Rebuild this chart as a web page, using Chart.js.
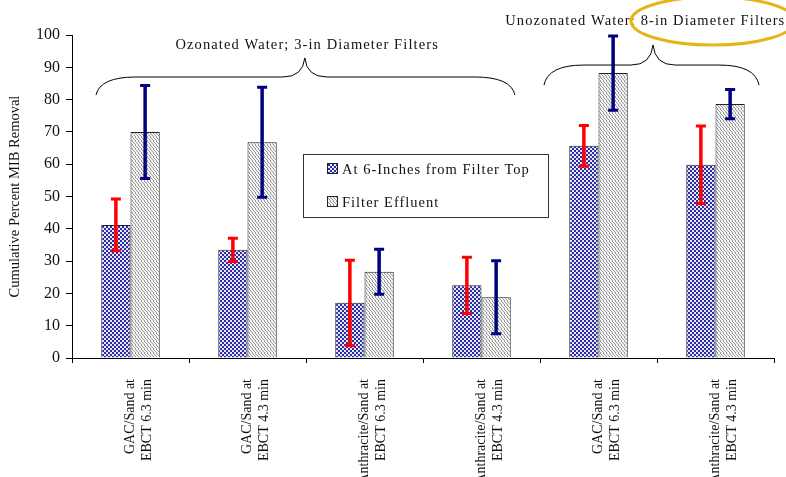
<!DOCTYPE html>
<html lang="en">
<head>
    <meta charset="UTF-8">
    <title>Cumulative MIB Removal</title>
    <script src="https://cdn.jsdelivr.net/npm/chart.js"></script>
    <style>
        body { margin: 0; background: #fff; }
        #wrap { width: 786px; height: 477px; }
    </style>
</head>
<body>
    <div id="wrap"><canvas id="mibChart" width="786" height="477"></canvas></div>
    <script>
        // filter configurations (two-line axis labels)
        const categories = [
            ['GAC/Sand at', 'EBCT 6.3 min'],
            ['GAC/Sand at', 'EBCT 4.3 min'],
            ['Anthracite/Sand at', 'EBCT 6.3 min'],
            ['Anthracite/Sand at', 'EBCT 4.3 min'],
            ['GAC/Sand at', 'EBCT 6.3 min'],
            ['Anthracite/Sand at', 'EBCT 4.3 min']
        ];
        const seriesNames = ['At 6-Inches from Filter Top', 'Filter Effluent'];

        // percent MIB removal and +/- error
        const sixInch = [41.2, 33.5, 17.1, 22.5, 65.7, 59.8];
        const sixInchErr = [8.0, 3.6, 13.2, 8.7, 6.3, 12.0];
        const effluent = [70.0, 66.8, 26.7, 18.8, 88.2, 78.6];
        const effluentErr = [14.4, 17.0, 7.0, 11.3, 11.5, 4.5];

        const yTicks = [0, 10, 20, 30, 40, 50, 60, 70, 80, 90, 100];

        const SERIF = '"Liberation Serif", "Times New Roman", serif';

        // hatched fills like the old spreadsheet patterns
        function makePattern(draw, w, h) {
            const c = document.createElement('canvas');
            c.width = w; c.height = h;
            draw(c.getContext('2d'));
            return c.getContext('2d').createPattern(c, 'repeat');
        }
        const bluePattern = makePattern(g => {
            g.fillStyle = '#e6e6f4';
            g.fillRect(0, 0, 4, 4);
            g.fillStyle = '#2e2eA4';
            g.fillRect(0, 0, 2, 2);
            g.fillRect(2, 2, 2, 2);
        }, 4, 4);
        const greyPattern = makePattern(g => {
            g.fillStyle = '#f4f4f4';
            g.fillRect(0, 0, 3, 4);
            g.fillStyle = '#9a9a9a';
            g.fillRect(0, 0, 1, 1);
            g.fillRect(0, 1, 1, 1);
            g.fillRect(1, 2, 1, 1);
            g.fillRect(2, 3, 1, 1);
        }, 3, 4);

        // brace annotations over the groups of filters (x in category units, y in % units)
        const braces = [
            { text: 'Ozonated Water; 3-in Diameter Filters', x0: -0.295, x1: 3.286, xm: 1.49, yEnd: 81.4, yLine: 87, yTip: 92.9, textX: 1.51, textY: 96.9 },
            { text: 'Unozonated Water; 8-in Diameter Filters', x0: 3.534, x1: 5.372, xm: 4.466, yEnd: 84.5, yLine: 90.7, yTip: 96.9, textX: 4.40, textY: 104.3 }
        ];

        const errorBars = {
            id: 'errorBars',
            afterDatasetsDraw(chart) {
                const { ctx } = chart;
                const y = chart.scales.y;
                chart.data.datasets.forEach((ds, di) => {
                    const meta = chart.getDatasetMeta(di);
                    meta.data.forEach((bar, i) => {
                        const top = y.getPixelForValue(ds.data[i] + ds.errors[i]);
                        const bot = y.getPixelForValue(ds.data[i] - ds.errors[i]);
                        ctx.save();
                        ctx.strokeStyle = ds.errorColor;
                        ctx.lineWidth = 3.5;
                        ctx.beginPath();
                        ctx.moveTo(bar.x, top);
                        ctx.lineTo(bar.x, bot);
                        ctx.stroke();
                        ctx.lineWidth = 3;
                        ctx.beginPath();
                        ctx.moveTo(bar.x - 5, top);
                        ctx.lineTo(bar.x + 5, top);
                        ctx.moveTo(bar.x - 5, bot);
                        ctx.lineTo(bar.x + 5, bot);
                        ctx.stroke();
                        ctx.restore();
                    });
                });
            }
        };

        const annotations = {
            id: 'annotations',
            afterDraw(chart) {
                const { ctx, chartArea } = chart;
                const x = chart.scales.x, y = chart.scales.y;

                // curly braces + group captions
                braces.forEach(b => {
                    const x0 = x.getPixelForValue(b.x0), x1 = x.getPixelForValue(b.x1);
                    const xm = x.getPixelForValue(b.xm);
                    const yE = y.getPixelForValue(b.yEnd), yL = y.getPixelForValue(b.yLine);
                    const yT = y.getPixelForValue(b.yTip);
                    const r = 40, r2 = 22;
                    ctx.save();
                    ctx.strokeStyle = '#000';
                    ctx.lineWidth = 1;
                    ctx.beginPath();
                    ctx.moveTo(x0, yE);
                    ctx.quadraticCurveTo(x0 + 4, yL, x0 + r, yL);
                    ctx.lineTo(xm - r2, yL);
                    ctx.quadraticCurveTo(xm - 2, yL, xm, yT);
                    ctx.quadraticCurveTo(xm + 2, yL, xm + r2, yL);
                    ctx.lineTo(x1 - r, yL);
                    ctx.quadraticCurveTo(x1 - 4, yL, x1, yE);
                    ctx.stroke();

                    ctx.fillStyle = '#111';
                    ctx.font = '14.5px ' + SERIF;
                    ctx.letterSpacing = '1.1px';
                    ctx.textAlign = 'center';
                    ctx.textBaseline = 'middle';
                    ctx.fillText(b.text, x.getPixelForValue(b.textX), y.getPixelForValue(b.textY));
                    ctx.restore();
                });

                // highlight ring around the 8-in caption
                ctx.save();
                ctx.strokeStyle = '#e6b417';
                ctx.lineWidth = 3;
                ctx.beginPath();
                ctx.ellipse(713, 21, 82, 24, 0, 0, Math.PI * 2);
                ctx.stroke();
                ctx.restore();

                // legend box
                const lx = chartArea.left + 231, ly = chartArea.top + 119;
                const lw = 245, lh = 63;
                ctx.save();
                ctx.fillStyle = '#fff';
                ctx.fillRect(lx, ly, lw, lh);
                ctx.strokeStyle = '#333';
                ctx.lineWidth = 1;
                ctx.strokeRect(lx + 0.5, ly + 0.5, lw, lh);
                ctx.font = '14.5px ' + SERIF;
                ctx.letterSpacing = '1px';
                ctx.textBaseline = 'middle';
                chart.data.datasets.forEach((ds, i) => {
                    const cy = ly + 15 + i * 33;
                    ctx.fillStyle = ds.backgroundColor;
                    ctx.fillRect(lx + 24, cy - 6, 11, 11);
                    ctx.strokeStyle = '#222';
                    ctx.strokeRect(lx + 24.5, cy - 5.5, 10, 10);
                    ctx.fillStyle = '#111';
                    ctx.fillText(ds.label, lx + 39, cy + 1);
                });
                ctx.restore();
            }
        };

        new Chart(document.getElementById('mibChart'), {
            type: 'bar',
            data: {
                labels: categories,
                datasets: [
                    {
                        label: seriesNames[0],
                        data: sixInch,
                        errors: sixInchErr,
                        errorColor: '#ff0000',
                        backgroundColor: bluePattern,
                        borderColor: '#222',
                        borderWidth: 1
                    },
                    {
                        label: seriesNames[1],
                        data: effluent,
                        errors: effluentErr,
                        errorColor: '#000080',
                        backgroundColor: greyPattern,
                        borderColor: '#222',
                        borderWidth: 1
                    }
                ]
            },
            options: {
                responsive: false,
                animation: false,
                categoryPercentage: 0.5,
                barPercentage: 1.0,
                layout: { padding: { top: 35, right: 12, left: 0, bottom: 0 } },
                plugins: {
                    legend: { display: false },
                    tooltip: { enabled: false }
                },
                scales: {
                    x: {
                        afterFit(scale) { scale.height = 119; },
                        border: { color: '#000', width: 1 },
                        grid: { drawOnChartArea: false, color: '#000', tickLength: 5, offset: true },
                        ticks: {
                            autoSkip: false,
                            minRotation: 90,
                            maxRotation: 90,
                            padding: 16,
                            color: '#111',
                            font: { family: SERIF, size: 14 }
                        }
                    },
                    y: {
                        min: 0,
                        max: 100,
                        afterFit(scale) { scale.width = 72; },
                        afterBuildTicks(scale) { scale.ticks = yTicks.map(v => ({ value: v })); },
                        border: { color: '#000', width: 1 },
                        grid: { drawOnChartArea: false, color: '#000', tickLength: 6 },
                        ticks: {
                            padding: 6,
                            color: '#111',
                            font: { family: SERIF, size: 16 }
                        },
                        title: {
                            display: true,
                            text: 'Cumulative Percent MIB Removal',
                            color: '#111',
                            font: { family: SERIF, size: 14.5 },
                            padding: { top: 6, bottom: 0 }
                        }
                    }
                }
            },
            plugins: [errorBars, annotations]
        });
    </script>
</body>
</html>
